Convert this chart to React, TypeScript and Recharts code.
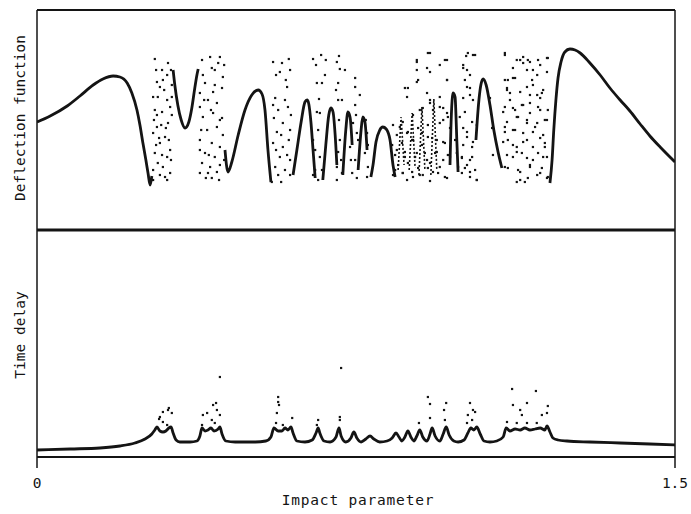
import React from 'react';
import { ComposedChart, Line, Scatter, XAxis, YAxis, ReferenceLine, Label } from 'recharts';

const INK = '#141414';
const FONT = '"DejaVu Sans Mono", "Liberation Mono", monospace';

// Impact parameter ticks
const xTicks = [0, 1.5];
const xTickLabels = ['0', '1.5'];

// Deflection function: smooth branches (null = break between branches)
const deflectionCurve: [number, number | null][] = [
  [0, 108], [0.031, 114], [0.071, 124], [0.101, 134], [0.132, 145], [0.155, 151], [0.179, 154], [0.195, 153],
  [0.212, 147], [0.223, 137], [0.235, 120], [0.242, 105], [0.249, 87], [0.256, 70], [0.261, 57], [0.266, 45], [0.270, 54],
  [0.271, null],
  [0.320, 160], [0.324, 145], [0.331, 125], [0.339, 110], [0.348, 102], [0.357, 108], [0.364, 122], [0.371, 142], [0.376, 155], [0.379, 161],
  [0.380, null],
  [0.442, 80], [0.449, 58], [0.458, 68], [0.473, 95], [0.489, 120], [0.505, 135], [0.520, 140], [0.529, 136], [0.536, 120], [0.543, 80], [0.550, 48],
  [0.551, null],
  [0.602, 55], [0.611, 80], [0.621, 108], [0.630, 128], [0.635, 130], [0.639, 126], [0.644, 108], [0.649, 80], [0.654, 52],
  [0.655, null],
  [0.672, 50], [0.679, 85], [0.686, 115], [0.691, 122], [0.696, 118], [0.701, 95], [0.705, 65],
  [0.706, null],
  [0.719, 55], [0.726, 100], [0.731, 118], [0.736, 113], [0.741, 85],
  [0.742, null],
  [0.755, 60], [0.762, 100], [0.766, 113], [0.771, 108], [0.776, 80],
  [0.777, null],
  [0.785, 53], [0.790, 65], [0.797, 88], [0.806, 100], [0.813, 103], [0.821, 101], [0.830, 90], [0.837, 65], [0.842, 53],
  [0.843, null],
  [0.971, 65], [0.973, 100], [0.976, 130], [0.978, 137], [0.983, 133], [0.985, 115], [0.987, 90], [0.990, 58],
  [0.991, null],
  [1.032, 90], [1.039, 130], [1.044, 146], [1.049, 151], [1.056, 145], [1.065, 125], [1.074, 100], [1.084, 78], [1.093, 62],
  [1.094, null],
  [1.206, 47], [1.211, 70], [1.215, 100], [1.220, 130], [1.225, 152], [1.232, 168], [1.241, 178], [1.253, 181], [1.265, 180],
  [1.277, 177], [1.300, 167], [1.324, 155], [1.347, 142], [1.371, 130], [1.394, 119], [1.418, 106], [1.441, 94], [1.465, 83], [1.5, 68],
];

// Deflection function: narrow cusps inside the chaotic region
const deflectionCusps: [number, number | null][] = [
  [0.849, 60], [0.856, 113], [0.863, 65], [0.864, null],
  [0.875, 60], [0.882, 117], [0.889, 62], [0.890, null],
  [0.898, 55], [0.905, 123], [0.912, 60], [0.913, null],
  [0.926, 55], [0.933, 131], [0.940, 60],
];

// Deflection function: chaotic scattering points
const deflectionScatter: [number, number][] = [
  [0.277, 171], [0.308, 167], [0.282, 148], [0.289, 143], [0.296, 150], [0.317, 145], [0.284, 133], [0.306, 130],
  [0.277, 120], [0.294, 118], [0.313, 123], [0.282, 103], [0.308, 107], [0.273, 97], [0.301, 93], [0.289, 87],
  [0.313, 80], [0.277, 77], [0.306, 73], [0.284, 67], [0.296, 63], [0.273, 60], [0.313, 57], [0.289, 55],
  [0.301, 53], [0.282, 115], [0.317, 133], [0.306, 155], [0.294, 160], [0.273, 133],
  [0.280, 160], [0.299, 140], [0.315, 160], [0.275, 110], [0.303, 102], [0.287, 92], [0.315, 70], [0.280, 85],
  [0.294, 75], [0.310, 90], [0.273, 50], [0.306, 50], [0.292, 105], [0.317, 115],
  [0.383, 137], [0.407, 173], [0.430, 173], [0.426, 167], [0.411, 162], [0.395, 147], [0.418, 145], [0.435, 142],
  [0.383, 123], [0.402, 130], [0.423, 127], [0.390, 113], [0.414, 117], [0.435, 112], [0.400, 100], [0.423, 103],
  [0.383, 90], [0.411, 87], [0.430, 83], [0.395, 77], [0.418, 73], [0.388, 67], [0.407, 63], [0.430, 65],
  [0.383, 57], [0.402, 57], [0.423, 58], [0.411, 52], [0.390, 155], [0.437, 153],
  [0.388, 170], [0.418, 160], [0.440, 165], [0.393, 130], [0.409, 120], [0.430, 110], [0.383, 80], [0.404, 75],
  [0.437, 95], [0.397, 52], [0.428, 50], [0.414, 138], [0.440, 70], [0.386, 100],
  [0.555, 168], [0.576, 167], [0.592, 171], [0.571, 158], [0.595, 160], [0.560, 132], [0.583, 130], [0.567, 120],
  [0.590, 123], [0.578, 107], [0.564, 98], [0.595, 100], [0.555, 87], [0.578, 83], [0.571, 73], [0.595, 70],
  [0.560, 63], [0.583, 60], [0.567, 55], [0.595, 55], [0.552, 48], [0.588, 143],
  [0.562, 155], [0.585, 150], [0.557, 112], [0.592, 90], [0.574, 95], [0.562, 80], [0.588, 75], [0.574, 48],
  [0.555, 125], [0.597, 115],
  [0.649, 171], [0.668, 175], [0.710, 174], [0.705, 168], [0.712, 161], [0.658, 147], [0.670, 147], [0.708, 147],
  [0.748, 152], [0.748, 143], [0.708, 130], [0.663, 131], [0.748, 125], [0.658, 118], [0.665, 117], [0.649, 90],
  [0.654, 80], [0.665, 73], [0.654, 60], [0.661, 50], [0.712, 90], [0.708, 78], [0.705, 63], [0.717, 57],
  [0.705, 50], [0.743, 107], [0.752, 97], [0.736, 83], [0.748, 70], [0.741, 57], [0.752, 52], [0.776, 97],
  [0.771, 77], [0.778, 63], [0.776, 53],
  [0.656, 165], [0.677, 155], [0.703, 140], [0.717, 130], [0.661, 100], [0.710, 110], [0.670, 60], [0.715, 70],
  [0.750, 115], [0.738, 70], [0.755, 90], [0.778, 85], [0.773, 110], [0.649, 55], [0.724, 160], [0.759, 135], [0.679, 170],
  [0.893, 168], [0.893, 160], [0.919, 177], [0.924, 158], [0.964, 170], [0.964, 150], [1.013, 177], [1.025, 175],
  [1.002, 165], [1.011, 160], [1.006, 150], [1.018, 142], [0.872, 142], [0.870, 133], [0.896, 150], [0.900, 120],
  [0.924, 130], [0.947, 123], [0.964, 117], [0.955, 110], [0.853, 103], [0.870, 97], [0.884, 90], [0.905, 97],
  [0.919, 93], [0.940, 90], [0.959, 87], [0.846, 80], [0.865, 73], [0.893, 77], [0.917, 70], [0.936, 77],
  [0.955, 70], [0.971, 73], [0.842, 60], [0.860, 57], [0.882, 58], [0.900, 55], [0.919, 62], [0.943, 57],
  [0.964, 52], [0.994, 113], [1.002, 102], [1.011, 93], [1.025, 130], [1.023, 83], [0.999, 73], [1.018, 70],
  [1.006, 62], [1.030, 60], [1.034, 50], [1.018, 53], [0.983, 90], [0.987, 77], [0.990, 63],
  [0.893, 170], [0.924, 177], [0.959, 170], [1.009, 174], [1.030, 175], [1.002, 162], [1.018, 155], [0.917, 162],
  [0.947, 165], [0.893, 148], [0.964, 150], [0.865, 142], [0.917, 137], [0.947, 133], [1.011, 143], [1.018, 135],
  [1.002, 132], [0.924, 127], [0.955, 122], [0.837, 105], [0.860, 108], [0.884, 115], [0.907, 122], [0.931, 120],
  [0.966, 113], [1.006, 118], [1.023, 108], [0.846, 95], [0.872, 98], [0.896, 102], [0.919, 105], [0.947, 107],
  [0.971, 102], [1.011, 98], [1.034, 105], [0.835, 85], [0.858, 87], [0.882, 90], [0.905, 85], [0.929, 92],
  [0.955, 88], [1.002, 85], [1.025, 88], [0.842, 75], [0.865, 78], [0.889, 73], [0.912, 77], [0.940, 78],
  [0.966, 75], [0.999, 72], [1.023, 73], [0.849, 65], [0.872, 67], [0.896, 62], [0.924, 67], [0.947, 63],
  [1.011, 65], [0.837, 55], [0.860, 57], [0.884, 53], [0.907, 55], [0.931, 58], [0.959, 53], [0.999, 57],
  [1.018, 58], [1.034, 50], [0.870, 50], [0.924, 49],
  [1.100, 177], [1.119, 162], [1.136, 170], [1.143, 167], [1.154, 170], [1.166, 160], [1.183, 165], [1.201, 172],
  [1.100, 150], [1.119, 152], [1.105, 140], [1.112, 130], [1.164, 150], [1.176, 135], [1.187, 137], [1.152, 143],
  [1.100, 123], [1.124, 120], [1.143, 125], [1.131, 113], [1.159, 117], [1.183, 120], [1.100, 103], [1.119, 100],
  [1.152, 107], [1.171, 103], [1.199, 110], [1.107, 90], [1.128, 83], [1.152, 90], [1.183, 92], [1.194, 83],
  [1.119, 73], [1.140, 77], [1.166, 70], [1.190, 73], [1.107, 62], [1.136, 58], [1.159, 63], [1.183, 57],
  [1.147, 48], [1.199, 52], [1.128, 48],
  [1.100, 175], [1.128, 170], [1.143, 173], [1.159, 168], [1.178, 170], [1.199, 172], [1.152, 160], [1.176, 155],
  [1.199, 158], [1.107, 150], [1.124, 152], [1.105, 142], [1.112, 137], [1.166, 145], [1.190, 140], [1.136, 138],
  [1.159, 135], [1.183, 132], [1.096, 118], [1.119, 122], [1.140, 125], [1.159, 127], [1.178, 123], [1.201, 120],
  [1.105, 108], [1.128, 113], [1.152, 110], [1.176, 107], [1.194, 110], [1.100, 98], [1.124, 100], [1.143, 97],
  [1.166, 98], [1.190, 95], [1.096, 88], [1.119, 85], [1.143, 88], [1.166, 83], [1.194, 87], [1.105, 75],
  [1.128, 78], [1.152, 72], [1.178, 77], [1.199, 73], [1.100, 63], [1.131, 60], [1.159, 65], [1.187, 62],
  [1.136, 50], [1.154, 52], [1.176, 55], [1.201, 53], [1.065, 132], [1.070, 102], [1.072, 75],
];

// Time delay: continuous curve
const delayCurve: [number, number][] = [
  [0, 7], [0.078, 8], [0.148, 9], [0.195, 11], [0.230, 14], [0.254, 18], [0.270, 23], [0.277, 27], [0.282, 30],
  [0.289, 26], [0.296, 25], [0.303, 26], [0.310, 29], [0.315, 30], [0.320, 24], [0.327, 17], [0.336, 15], [0.360, 15],
  [0.376, 16], [0.383, 21], [0.388, 29], [0.395, 26], [0.402, 27], [0.409, 29], [0.416, 26], [0.426, 28], [0.430, 30],
  [0.435, 23], [0.444, 16], [0.466, 15], [0.513, 15], [0.538, 16], [0.550, 20], [0.557, 29], [0.567, 26], [0.576, 26],
  [0.583, 29], [0.590, 27], [0.597, 30], [0.602, 24], [0.611, 16], [0.630, 15], [0.647, 17], [0.656, 24], [0.661, 29],
  [0.665, 24], [0.675, 16], [0.689, 15], [0.703, 20], [0.710, 29], [0.715, 21], [0.726, 15], [0.738, 19], [0.745, 25],
  [0.752, 19], [0.762, 15], [0.773, 18], [0.783, 21], [0.792, 18], [0.806, 15], [0.823, 16], [0.835, 19], [0.844, 24],
  [0.851, 20], [0.858, 16], [0.865, 20], [0.872, 26], [0.879, 20], [0.886, 16], [0.893, 21], [0.900, 27], [0.907, 20],
  [0.917, 16], [0.924, 23], [0.929, 29], [0.936, 21], [0.947, 16], [0.955, 23], [0.962, 30], [0.969, 22], [0.980, 16],
  [0.990, 15], [1.004, 17], [1.013, 24], [1.020, 29], [1.027, 27], [1.034, 30], [1.042, 23], [1.051, 16], [1.065, 15],
  [1.081, 16], [1.096, 20], [1.103, 29], [1.112, 26], [1.124, 28], [1.136, 27], [1.147, 29], [1.159, 27], [1.171, 28],
  [1.183, 29], [1.194, 27], [1.199, 31], [1.206, 25], [1.213, 19], [1.225, 17], [1.246, 16], [1.300, 15], [1.371, 14],
  [1.441, 13], [1.5, 12],
];

// Time delay: scattered points above the cusps
const delayScatter: [number, number][] = [
  [0.289, 40], [0.308, 47], [0.317, 44], [0.296, 35], [0.306, 32], [0.296, 45], [0.310, 49], [0.287, 38],
  [0.390, 42], [0.400, 44], [0.414, 52], [0.423, 47], [0.411, 37], [0.388, 32], [0.421, 54], [0.430, 42],
  [0.418, 34], [0.430, 80], [0.567, 60], [0.567, 55], [0.569, 52], [0.564, 44], [0.562, 34], [0.578, 32],
  [0.600, 39], [0.661, 37], [0.658, 32], [0.712, 40], [0.712, 37], [0.715, 89], [0.919, 60], [0.924, 53],
  [0.924, 39], [0.962, 54], [0.957, 47], [0.959, 37], [1.018, 54], [1.025, 47], [1.030, 45], [1.013, 42],
  [1.023, 37], [1.011, 34], [0.898, 34], [1.117, 68], [1.173, 66], [1.119, 52], [1.152, 54], [1.136, 47],
  [1.140, 42], [1.201, 51], [1.199, 44], [1.187, 42], [1.105, 35], [1.128, 34], [1.152, 34], [1.175, 34],
];

const toRows = (arr: [number, number | null][]) => arr.map(([x, y]) => ({ x, y }));

const Dot = (p: any) => <rect x={p.cx - 1.1} y={p.cy - 1.1} width={2.2} height={2.2} fill={INK} />;

const labelStyle = { fontFamily: FONT, fontSize: 14.5, fill: INK };

export default function App() {
  return (
    <div style={{ position: 'absolute', left: 0, top: 0, width: 691, height: 514, background: '#fff' }}>
      <div style={{ position: 'absolute', left: 0, top: 0 }}>
        <ComposedChart width={691} height={232} margin={{ top: 10, right: 16, bottom: 2, left: 0 }}>
          <XAxis type="number" dataKey="x" domain={[0, 1.5]} hide allowDataOverflow />
          <YAxis
            type="number"
            dataKey="y"
            domain={[0, 220]}
            width={37}
            tick={false}
            tickLine={false}
            axisLine={{ stroke: INK, strokeWidth: 1.5 }}
            allowDataOverflow
          >
            <Label
              content={() => (
                <text x={25} y={118} transform="rotate(-90 25 118)" textAnchor="middle" style={labelStyle}>
                  Deflection function
                </text>
              )}
            />
          </YAxis>
          <ReferenceLine y={220} stroke={INK} strokeWidth={2} />
          <ReferenceLine y={0} stroke={INK} strokeWidth={2.8} />
          <ReferenceLine x={1.5} stroke={INK} strokeWidth={1.5} />
          <Line
            data={toRows(deflectionCurve)}
            dataKey="y"
            type="monotone"
            stroke={INK}
            strokeWidth={2.8}
            dot={false}
            activeDot={false}
            connectNulls={false}
            isAnimationActive={false}
          />
          <Line
            data={toRows(deflectionCusps)}
            dataKey="y"
            type="linear"
            stroke={INK}
            strokeWidth={1.6}
            strokeDasharray="2 2"
            dot={false}
            activeDot={false}
            connectNulls={false}
            isAnimationActive={false}
          />
          <Scatter data={toRows(deflectionScatter)} dataKey="y" shape={Dot} isAnimationActive={false} />
        </ComposedChart>
      </div>
      <div style={{ position: 'absolute', left: 0, top: 230 }}>
        <ComposedChart width={691} height={284} margin={{ top: 0, right: 16, bottom: 7, left: 0 }}>
          <XAxis
            type="number"
            dataKey="x"
            domain={[0, 1.5]}
            ticks={xTicks}
            height={50}
            tickSize={11}
            axisLine={{ stroke: INK, strokeWidth: 2.2 }}
            tickLine={{ stroke: INK, strokeWidth: 1.5 }}
            allowDataOverflow
            tick={(p: any) => (
              <text x={p.x} y={258} textAnchor="middle" style={labelStyle}>
                {xTickLabels[xTicks.indexOf(p.payload.value)]}
              </text>
            )}
          >
            <Label
              content={() => (
                <text x={358} y={275} textAnchor="middle" style={{ ...labelStyle, letterSpacing: 0.8 }}>
                  Impact parameter
                </text>
              )}
            />
          </XAxis>
          <YAxis
            type="number"
            dataKey="y"
            domain={[0, 227]}
            width={37}
            tick={false}
            tickLine={false}
            axisLine={{ stroke: INK, strokeWidth: 1.5 }}
            allowDataOverflow
          >
            <Label
              content={() => (
                <text x={25} y={105} transform="rotate(-90 25 105)" textAnchor="middle" style={labelStyle}>
                  Time delay
                </text>
              )}
            />
          </YAxis>
          <ReferenceLine x={1.5} stroke={INK} strokeWidth={1.5} />
          <Line
            data={toRows(delayCurve)}
            dataKey="y"
            type="monotone"
            stroke={INK}
            strokeWidth={2.8}
            dot={false}
            activeDot={false}
            isAnimationActive={false}
          />
          <Scatter data={toRows(delayScatter)} dataKey="y" shape={Dot} isAnimationActive={false} />
        </ComposedChart>
      </div>
    </div>
  );
}
